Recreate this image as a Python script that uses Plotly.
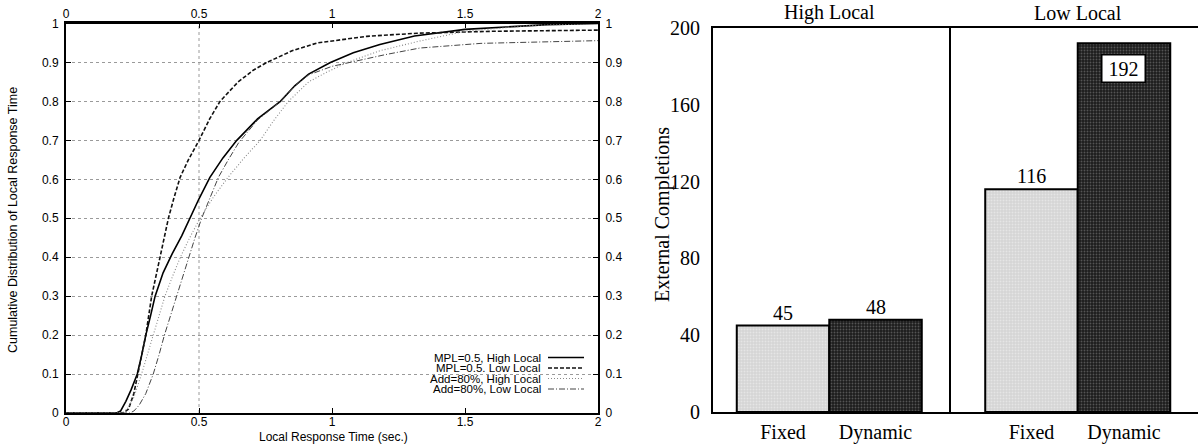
import plotly.graph_objects as go

# ---------------- data ----------------
# Left chart: cumulative distribution of local response time
mpl_high_x = [0, 0.19, 0.205, 0.225, 0.245, 0.268, 0.285, 0.30, 0.318, 0.335, 0.365, 0.40, 0.435, 0.466,
              0.50, 0.541, 0.59, 0.642, 0.72, 0.806, 0.86, 0.912, 0.994, 1.08, 1.18, 1.31, 1.50, 1.81, 2.0]
mpl_high_y = [0, 0, 0.005, 0.03, 0.06, 0.10, 0.15, 0.20, 0.25, 0.30, 0.36, 0.41, 0.455, 0.50,
              0.55, 0.605, 0.655, 0.70, 0.755, 0.80, 0.84, 0.87, 0.90, 0.925, 0.946, 0.968, 0.985, 0.997, 1.0]

mpl_low_x = [0, 0.215, 0.235, 0.255, 0.27, 0.285, 0.30, 0.322, 0.338, 0.355, 0.37, 0.385, 0.405, 0.429,
             0.46, 0.50, 0.54, 0.579, 0.647, 0.704, 0.755, 0.85, 0.944, 1.13, 1.32, 1.6, 2.0]
mpl_low_y = [0, 0, 0.01, 0.05, 0.10, 0.15, 0.20, 0.30, 0.35, 0.40, 0.45, 0.50, 0.55, 0.605,
             0.65, 0.70, 0.755, 0.80, 0.85, 0.88, 0.90, 0.93, 0.95, 0.967, 0.975, 0.98, 0.983]

add_high_x = [0, 0.21, 0.23, 0.255, 0.284, 0.31, 0.33, 0.35, 0.372, 0.40, 0.43, 0.465, 0.504, 0.555,
              0.609, 0.67, 0.73, 0.78, 0.836, 0.912, 0.98, 1.057, 1.18, 1.33, 1.5, 1.75, 2.0]
add_high_y = [0, 0, 0.01, 0.04, 0.10, 0.16, 0.20, 0.25, 0.30, 0.35, 0.40, 0.45, 0.50, 0.555,
              0.605, 0.655, 0.70, 0.75, 0.80, 0.85, 0.875, 0.90, 0.93, 0.955, 0.98, 0.995, 1.0]

add_low_x = [0, 0.24, 0.255, 0.275, 0.30, 0.328, 0.35, 0.37, 0.393, 0.416, 0.438, 0.46, 0.485, 0.51,
             0.54, 0.573, 0.61, 0.65, 0.72, 0.806, 0.86, 0.912, 1.0, 1.1, 1.2, 1.33, 1.56, 2.0]
add_low_y = [0, 0, 0.005, 0.02, 0.05, 0.10, 0.15, 0.20, 0.25, 0.30, 0.35, 0.40, 0.45, 0.50,
             0.55, 0.605, 0.65, 0.695, 0.752, 0.80, 0.84, 0.868, 0.89, 0.905, 0.92, 0.937, 0.949, 0.956]

series_names = ["MPL=0.5, High Local", "MPL=0.5. Low Local", "Add=80%, High Local", "Add=80%, Low Local"]

x_tickvals = [0, 0.5, 1, 1.5, 2]
x_ticktext = ["0", "0.5", "1", "1.5", "2"]
y_tickvals = [0, 0.1, 0.2, 0.3, 0.4, 0.5, 0.6, 0.7, 0.8, 0.9, 1]
y_ticktext = ["0", "0.1", "0.2", "0.3", "0.4", "0.5", "0.6", "0.7", "0.8", "0.9", "1"]

# Right chart: external completions
groups = ["High Local", "Low Local"]
categories = ["Fixed", "Dynamic"]
fixed_vals = [45, 116]
dynamic_vals = [48, 192]
bar_tickvals = [0, 40, 80, 120, 160, 200]

# ---------------- layout helpers ----------------
W, H = 1198, 446


def fx(p):
    return p / W


def fy(p):
    return 1 - p / H


SANS = "Liberation Sans, Arial, sans-serif"
SERIF = "Liberation Serif, Times New Roman, serif"

styles = [
    dict(color="#000000", width=1.6, dash="solid"),
    dict(color="#111111", width=1.6, dash="4px,2px"),
    dict(color="#8a8a8a", width=1.1, dash="1px,2px"),
    dict(color="#444444", width=1.0, dash="6px,2px,1px,2px"),
]
series = [(mpl_high_x, mpl_high_y), (mpl_low_x, mpl_low_y), (add_high_x, add_high_y), (add_low_x, add_low_y)]

fig = go.Figure()

for (xs, ys), st, nm in zip(series, styles, series_names):
    fig.add_trace(go.Scatter(x=xs, y=ys, mode="lines", name=nm, line=st,
                             showlegend=False, xaxis="x", yaxis="y", hoverinfo="skip"))

# invisible trace so the mirrored top/right axes get drawn
fig.add_trace(go.Scatter(x=mpl_high_x, y=mpl_high_y, mode="lines", line=dict(width=0),
                         opacity=0, showlegend=False, xaxis="x2", yaxis="y2", hoverinfo="skip"))

# bars
light = dict(color="#d4d4d4", line=dict(color="#000000", width=2),
             pattern=dict(shape=".", fgcolor="#f6f6f6", size=3, solidity=0.35, fillmode="overlay"))
dark = dict(color="#1c1c1c", line=dict(color="#000000", width=2),
            pattern=dict(shape=".", fgcolor="#8c8c8c", size=3, solidity=0.3, fillmode="overlay"))
for i, (xa, ya) in enumerate([("x3", "y3"), ("x4", "y4")]):
    fig.add_trace(go.Bar(x=[categories[0]], y=[fixed_vals[i]], width=1, marker=light,
                         name=f"{groups[i]} Fixed", showlegend=False, xaxis=xa, yaxis=ya,
                         hoverinfo="skip"))
    fig.add_trace(go.Bar(x=[categories[1]], y=[dynamic_vals[i]], width=1, marker=dark,
                         name=f"{groups[i]} Dynamic", showlegend=False, xaxis=xa, yaxis=ya,
                         hoverinfo="skip"))

left_dom_x = [fx(66), fx(598)]
left_dom_y = [fy(413), fy(23.5)]
right_dom_y = [fy(412), fy(28)]

tickfont_sans = dict(family=SANS, size=12, color="#000")
tickfont_serif = dict(family=SERIF, size=20, color="#000")

fig.update_layout(
    template="none",
    width=W, height=H,
    margin=dict(l=0, r=0, t=0, b=0, pad=0, autoexpand=False),
    paper_bgcolor="white", plot_bgcolor="rgba(0,0,0,0)",
    barmode="overlay",
    showlegend=False,
    hovermode=False,
    xaxis=dict(domain=left_dom_x, range=[0, 2], tickvals=x_tickvals, ticktext=x_ticktext,
               ticks="inside", ticklen=5, tickwidth=1, tickcolor="#000",
               showline=True, linewidth=2, linecolor="#000", showgrid=False, zeroline=False,
               tickfont=tickfont_sans, ticklabelstandoff=-3, anchor="y", automargin=False),
    yaxis=dict(domain=left_dom_y, range=[0, 1], tickvals=y_tickvals, ticktext=y_ticktext,
               ticks="inside", ticklen=5, tickwidth=1, tickcolor="#000",
               showline=True, linewidth=2, linecolor="#000", zeroline=False,
               showgrid=True, gridcolor="#9a9a9a", gridwidth=1, griddash="dot",
               tickfont=tickfont_sans, ticklabelstandoff=3, anchor="x", automargin=False),
    xaxis2=dict(overlaying="x", side="top", range=[0, 2], tickvals=x_tickvals, ticktext=x_ticktext,
                ticks="inside", ticklen=5, tickwidth=1, tickcolor="#000",
                showline=True, linewidth=2.5, linecolor="#000", showgrid=False, zeroline=False,
                tickfont=tickfont_sans, ticklabelstandoff=-2, anchor="y2", automargin=False),
    yaxis2=dict(overlaying="y", side="right", range=[0, 1], tickvals=y_tickvals, ticktext=y_ticktext,
                ticks="inside", ticklen=5, tickwidth=1, tickcolor="#000",
                showline=True, linewidth=2, linecolor="#000", showgrid=False, zeroline=False,
                tickfont=tickfont_sans, ticklabelstandoff=3, anchor="x2", automargin=False),
    xaxis3=dict(domain=[fx(713), fx(951)], range=[-0.757, 1.816], type="category",
                categoryorder="array", categoryarray=categories,
                showline=True, mirror=True, linewidth=2, linecolor="#000",
                ticks="", showgrid=False, zeroline=False, tickfont=tickfont_serif,
                ticklabelstandoff=1, anchor="y3", automargin=False),
    yaxis3=dict(domain=right_dom_y, range=[0, 200], tickvals=bar_tickvals,
                showline=True, linewidth=2, linecolor="#000",
                ticks="outside", ticklen=7, tickcolor="rgba(0,0,0,0)",
                showgrid=False, zeroline=False, tickfont=tickfont_serif, anchor="x3", automargin=False),
    xaxis4=dict(domain=[fx(951), 1.0], range=[-0.870, 1.8], type="category",
                categoryorder="array", categoryarray=categories,
                showline=True, mirror=True, linewidth=2, linecolor="#000",
                ticks="", showgrid=False, zeroline=False, tickfont=tickfont_serif,
                ticklabelstandoff=1, anchor="y4", automargin=False),
    yaxis4=dict(domain=right_dom_y, range=[0, 200], matches="y3",
                showline=True, linewidth=1.5, linecolor="#000", showticklabels=False,
                ticks="", showgrid=False, zeroline=False, anchor="x4", automargin=False),
)

# vertical dotted grid line at x = 0.5 (the only visible one in the original)
fig.add_shape(type="line", xref="x", yref="y", x0=x_tickvals[1], x1=x_tickvals[1], y0=0, y1=1,
              line=dict(color="#9a9a9a", width=1, dash="dot"), layer="below")

ann = []
# left axis titles
ann.append(dict(text="Local Response Time (sec.)", x=fx(333), y=fy(437), xref="paper", yref="paper",
                xanchor="center", yanchor="middle", showarrow=False,
                font=dict(family=SANS, size=12, color="#000")))
ann.append(dict(text="Cumulative Distribution of Local Response Time", x=fx(13), y=fy(220),
                xref="paper", yref="paper", xanchor="center", yanchor="middle", textangle=-90,
                showarrow=False, font=dict(family=SANS, size=12.5, color="#000")))

# custom legend (text on the left, line sample on the right)
legend_rows = [357.5, 368, 378.5, 389]
for nm, st, ry in zip(series_names, styles, legend_rows):
    ann.append(dict(text=nm, x=fx(542), y=fy(ry), xref="paper", yref="paper", xanchor="right",
                    yanchor="middle", showarrow=False, borderpad=0,
                    font=dict(family=SANS, size=11.5, color="#000")))
    fig.add_shape(type="line", xref="paper", yref="paper", x0=fx(548), x1=fx(584), y0=fy(ry), y1=fy(ry),
                  line=dict(color=st["color"], width=st["width"], dash=st["dash"]))

# right chart titles / labels
ann.append(dict(text="External Completions", x=fx(663), y=fy(215), xref="paper", yref="paper",
                xanchor="center", yanchor="middle", textangle=-90, showarrow=False,
                font=dict(family=SERIF, size=20, color="#000")))
for i, (xa, ya) in enumerate([("x3", "y3"), ("x4", "y4")]):
    ann.append(dict(text=groups[i], x=0.5, y=fy(13), xref=xa, yref="paper", xanchor="center",
                    yanchor="middle", showarrow=False, font=dict(family=SERIF, size=20, color="#000")))
    ann.append(dict(text=str(fixed_vals[i]), x=categories[0], y=fixed_vals[i], xref=xa, yref=ya,
                    yanchor="bottom", showarrow=False, font=dict(family=SERIF, size=20, color="#000")))
    if i == 0:
        ann.append(dict(text=str(dynamic_vals[i]), x=categories[1], y=dynamic_vals[i], xref=xa, yref=ya,
                        yanchor="bottom", showarrow=False, font=dict(family=SERIF, size=20, color="#000")))
    else:
        ann.append(dict(text=str(dynamic_vals[i]), x=categories[1], y=dynamic_vals[i], xref=xa, yref=ya,
                        yanchor="top", yshift=-11, showarrow=False, bgcolor="white", width=38,
                        bordercolor="#000", borderwidth=1.5, borderpad=2,
                        font=dict(family=SERIF, size=20, color="#000")))

fig.update_layout(annotations=ann)

fig.write_html("out.html",
               config={"displayModeBar": False},
               post_script="document.body.style.margin='0';document.body.style.padding='0';")
